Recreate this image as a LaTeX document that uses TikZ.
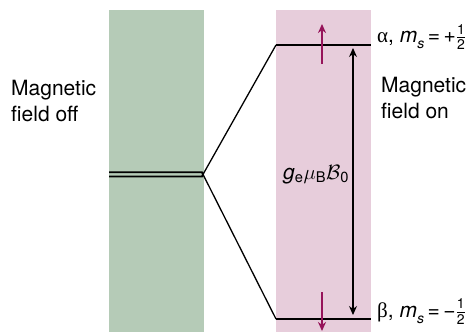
\documentclass[tikz,border=0pt]{standalone}
\usepackage{fontspec}
\setmainfont{TeX Gyre Heros}
\newfontfamily\grk{Liberation Serif}
\usetikzlibrary{arrows.meta}
\definecolor{offgreen}{RGB}{181,203,183}
\definecolor{onpink}{RGB}{231,205,219}
\definecolor{spinpurple}{RGB}{150,20,90}
\newcommand{\halffrac}{\ensuremath{\frac{\mbox{\fontsize{14}{14}\selectfont 1}}{\mbox{\fontsize{14}{14}\selectfont 2}}}}
\newcommand{\msub}{{\itshape m}\raisebox{-0.3em}{\fontsize{14}{14}\selectfont\itshape s}}
\begin{document}
\begin{tikzpicture}[x=1pt,y=-1pt,
  lbl/.style={inner sep=0pt,font=\fontsize{21}{26.5}\selectfont},
  level/.style={line width=2.8pt},
  split/.style={line width=1.3pt},
  spin/.style={spinpurple,line width=1.5pt,-{Stealth[length=9pt,width=8pt]}},
  gap/.style={line width=1.2pt,{Stealth[length=9pt,width=8pt]}-{Stealth[length=9pt,width=8pt]}}]
\useasboundingbox (0,0) rectangle (475,332);
\fill[offgreen] (109,10) rectangle (204,332);
\fill[onpink] (276,10) rectangle (371,332);
% degenerate level
\coordinate (apex) at (203,174.4);
\coordinate (offL1) at (109,172.3);
\coordinate (offL2) at (109,176.5);
\draw[line width=1.8pt] (offL1) -- (202,172.3) -- (apex);
\draw[line width=1.8pt] (offL2) -- (202,176.5) -- (apex);
% split levels
\coordinate (upL) at (276,45);
\coordinate (upR) at (371,45);
\coordinate (dnL) at (276,319);
\coordinate (dnR) at (371,319);
\draw[split] (apex) -- (upL);
\draw[split] (apex) -- (dnL);
\draw[level] (upL) -- (upR);
\draw[level] (dnL) -- (dnR);
% spin arrows
\coordinate (su0) at (322,64);
\coordinate (su1) at (322,24);
\coordinate (sd0) at (322,292);
\coordinate (sd1) at (322,331);
\draw[spin] (su0) -- (su1);
\draw[spin] (sd0) -- (sd1);
% energy gap arrow
\coordinate (g0) at (353,48);
\coordinate (g1) at (353,315);
\draw[gap] (g0) -- (g1);
% labels
\node[lbl,anchor=base west,align=left] (off) at (11,121.7) {Magnetic\\field off};
\node[lbl,anchor=base west,align=left] (on) at (381,118.5) {Magnetic\\field on};
\node[lbl,anchor=base west] (gapl) at (283,179) {\itshape g\textsubscript{\upshape e}$\mu$\textsubscript{\upshape B}$\mathcal{B}$\textsubscript{\upshape 0}};
\node[lbl,anchor=base west] (alpha) at (377,42.5) {{\grk α}, \msub\,=\,+\halffrac};
\node[lbl,anchor=base west] (beta) at (377,317) {{\grk β}, \msub\,=\,\textminus\halffrac};
\end{tikzpicture}
\end{document}
